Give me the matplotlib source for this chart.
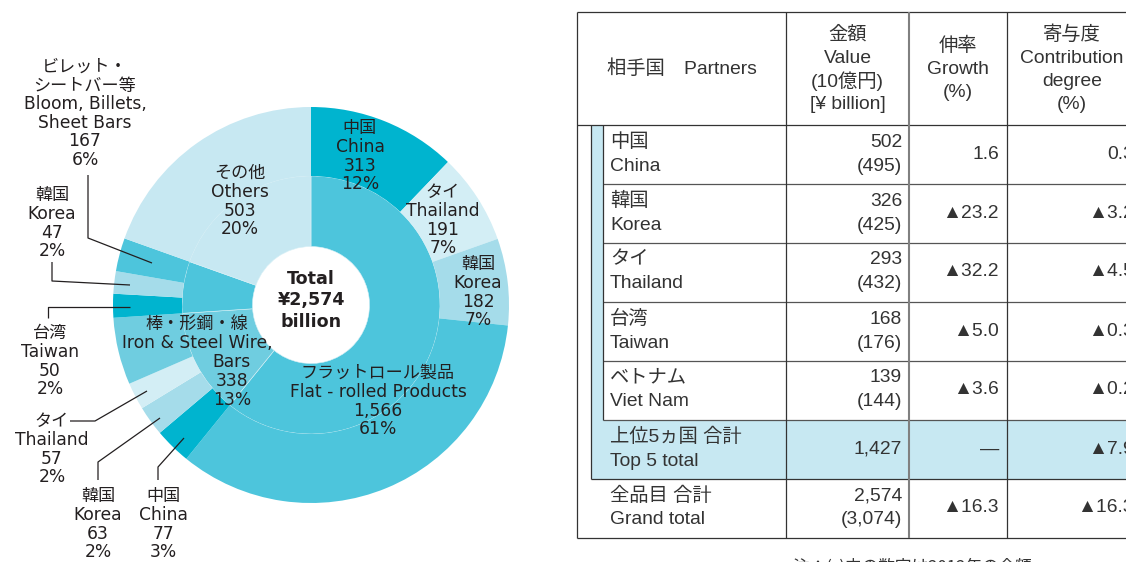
import matplotlib
matplotlib.use('Agg')
import matplotlib.pyplot as plt
from matplotlib.patches import Rectangle

W, H = 1126, 562

# ---------------- data ----------------
category_jp = ['フラットロール製品', '棒・形鋼・線', 'ビレット・\nシートバー等', 'その他']
category_en = ['Flat - rolled Products', 'Iron & Steel Wire,\nBars', 'Bloom, Billets,\nSheet Bars', 'Others']
category_values = [1566, 338, 167, 503]

flat_partners = ['China', 'Thailand', 'Korea']
flat_partner_values = [313, 191, 182]
wire_partners = ['China', 'Korea', 'Thailand']
wire_partner_values = [77, 63, 57]
bloom_partners = ['Taiwan', 'Korea']
bloom_partner_values = [50, 47]

table_jp = ['中国', '韓国', 'タイ', '台湾', 'ベトナム']
table_en = ['China', 'Korea', 'Thailand', 'Taiwan', 'Viet Nam']
value_2013 = ['502', '326', '293', '168', '139']
value_2012 = ['495', '425', '432', '176', '144']
growth = ['1.6', '▲23.2', '▲32.2', '▲5.0', '▲3.6']
contribution = ['0.3', '▲3.2', '▲4.5', '▲0.3', '▲0.2']
top5 = ('上位5ヵ国 合計', 'Top 5 total', '1,427', '—', '▲7.9')
grand = ('全品目 合計', 'Grand total', '2,574', '3,074', '▲16.3', '▲16.3')

total = sum(category_values)

# ---------------- colours ----------------
DARK = '#00B4CF'
FLAT = '#4DC5DC'
WIRE = '#6FCDE0'
BLOOM = '#4DC5DC'
OTHERS = '#C7E8F2'
KOREA = '#A5DCEA'
THAI = '#D3EEF5'
TXT = '#231F20'
partner_color = {'China': DARK, 'Taiwan': DARK, 'Korea': KOREA, 'Thailand': THAI}

fig = plt.figure(figsize=(W / 100, H / 100), dpi=100)
ax = fig.add_axes([0, 0, 1, 1])
ax.set_autoscale_on(False)
ax.set_xlim(0, W)
ax.set_ylim(0, H)

# ---------------- donut ----------------
cx, cy = 311, H - 305
R_OUT, R_MID, R_IN = 198, 129, 58.5

ax.pie(category_values, radius=R_MID, center=(cx, cy), startangle=90,
       counterclock=False, colors=[FLAT, WIRE, BLOOM, OTHERS],
       wedgeprops=dict(width=R_MID - R_IN, edgecolor='#D8F0F6', linewidth=0.4),
       frame=True)

outer_vals, outer_cols = [], []
for names, vals, cat_val, base in [
        (flat_partners, flat_partner_values, category_values[0], FLAT),
        (wire_partners, wire_partner_values, category_values[1], WIRE),
        (bloom_partners, bloom_partner_values, category_values[2], BLOOM)]:
    for n, v in zip(names, vals):
        outer_vals.append(v)
        outer_cols.append(partner_color[n])
    outer_vals.append(cat_val - sum(vals))
    outer_cols.append(base)
outer_vals.append(category_values[3])
outer_cols.append(OTHERS)

ax.pie(outer_vals, radius=R_OUT, center=(cx, cy), startangle=90,
       counterclock=False, colors=outer_cols,
       wedgeprops=dict(width=R_OUT - R_MID, linewidth=0), frame=True)

ax.set_xlim(0, W)
ax.set_ylim(0, H)
ax.set_aspect('auto')
ax.axis('off')

PIE_FONT = ['DejaVu Sans', 'Noto Sans CJK JP']


def pct(v):
    return f'{round(v / total * 100)}%'


def block(x, y0, lines, step=18.8, size=12.3, weight='normal'):
    for i, s in enumerate(lines):
        ax.text(x, H - (y0 + i * step), s, ha='center', va='center',
                family=PIE_FONT, fontsize=size, color=TXT, fontweight=weight)


def leader(pts):
    ax.plot([p[0] for p in pts], [H - p[1] for p in pts], color=TXT, lw=0.9,
            solid_capstyle='butt')


# inner labels
block(360, 128, ['中国', 'China', str(flat_partner_values[0]), pct(flat_partner_values[0])])
block(443, 192, ['タイ', 'Thailand', str(flat_partner_values[1]), pct(flat_partner_values[1])])
block(478, 264, ['韓国', 'Korea', str(flat_partner_values[2]), pct(flat_partner_values[2])])
block(240, 173, [category_jp[3], category_en[3], str(category_values[3]), pct(category_values[3])])
block(378, 373, [category_jp[0], category_en[0], f'{category_values[0]:,}', pct(category_values[0])])
wire_en = category_en[1].split('\n')
block(197, 324, [category_jp[1], wire_en[0]])
block(232, 362, [wire_en[1], str(category_values[1]), pct(category_values[1])])
block(311, 279, ['Total', f'¥{total:,}', 'billion'], step=21.5, size=12.6, weight='bold')

# outside labels
block(85, 67, category_jp[2].split('\n') + category_en[2].split('\n') +
      [str(category_values[2]), pct(category_values[2])], step=18.6)
leader([(88, 175), (88, 238), (152, 263)])

block(52, 195, ['韓国', 'Korea', str(bloom_partner_values[1]), pct(bloom_partner_values[1])])
leader([(52, 262), (52, 281), (130, 285)])

block(50, 333, ['台湾', 'Taiwan', str(bloom_partner_values[0]), pct(bloom_partner_values[0])])
leader([(48, 318), (48, 307), (130, 307)])

block(52, 421, ['タイ', 'Thailand', str(wire_partner_values[2]), pct(wire_partner_values[2])])
leader([(70, 421), (95, 421), (147, 391)])

block(98, 496, ['韓国', 'Korea', str(wire_partner_values[1]), pct(wire_partner_values[1])])
leader([(98, 480), (98, 462), (160, 418)])

block(163, 496, ['中国', 'China', str(wire_partner_values[0]), pct(wire_partner_values[0])])
leader([(158, 480), (158, 467), (184, 438)])

# ---------------- table ----------------
TF = ['Liberation Sans', 'Noto Sans CJK JP']
TS = 13.9
TC = '#333333'
XL, XB, XS = 577, 591, 603
C1, C2, C3, XR = 786, 909, 1007, 1140
YT, YH = 12, 125
row_edges = [125, 183.5, 242.5, 301.5, 360.5, 419.5, 478.5, 537.5]
LIGHT = '#C7E8F2'


def t(x, y, s, ha='left', size=TS, fam=TF):
    ax.text(x, H - y, s, ha=ha, va='center', family=fam, fontsize=size, color=TC)


def hl(x0, x1, y, color='#333333', lw=0.9):
    ax.plot([x0, x1], [H - y, H - y], color=color, lw=lw, solid_capstyle='butt')


def vl(x, y0, y1, color='#333333', lw=0.9):
    ax.plot([x, x], [H - y0, H - y1], color=color, lw=lw, solid_capstyle='butt')


# fills
ax.add_patch(Rectangle((XB, H - row_edges[5]), XS - XB, row_edges[5] - YH,
                       facecolor=LIGHT, edgecolor='none'))
ax.add_patch(Rectangle((XB, H - row_edges[6]), XR - XB, row_edges[6] - row_edges[5],
                       facecolor=LIGHT, edgecolor='none'))

# lines
hl(XL, XR, YT)
hl(XL, XR, YH)
for y in row_edges[1:6]:
    hl(XS, XR, y, color='#555555')
hl(XB, XR, row_edges[6])
hl(XL, XR, row_edges[7])
vl(XL, YT, row_edges[7])
vl(XB, YH, row_edges[6])
vl(XS, YH, row_edges[5])
vl(C1, YT, row_edges[7])
vl(C2, YT, row_edges[7], color='#808080', lw=1.5)
vl(C3, YT, row_edges[7])

# header
t((XL + C1) / 2, 69, '相手国　Partners', ha='center')
for i, s in enumerate(['金額', 'Value', '(10億円)', '[¥ billion]']):
    t((C1 + C2) / 2, 35 + i * 23.3, s, ha='center')
for i, s in enumerate(['伸率', 'Growth', '(%)']):
    t((C2 + C3) / 2, 46 + i * 23.3, s, ha='center')
for i, s in enumerate(['寄与度', 'Contribution', 'degree', '(%)']):
    t(1072, 35 + i * 23.3, s, ha='center')

# body rows
XV, XG, XC = 902, 999, 1134
for i in range(5):
    yc = (row_edges[i] + row_edges[i + 1]) / 2
    t(610, yc - 12, table_jp[i])
    t(610, yc + 12, table_en[i])
    t(XV, yc - 12, value_2013[i], ha='right')
    t(XV, yc + 12, f'({value_2012[i]})', ha='right')
    t(XG, yc, growth[i], ha='right')
    t(XC, yc, contribution[i], ha='right')

yc = (row_edges[5] + row_edges[6]) / 2
t(610, yc - 12, top5[0])
t(610, yc + 12, top5[1])
t(XV, yc, top5[2], ha='right')
t(XG, yc, top5[3], ha='right')
t(XC, yc, top5[4], ha='right')

yc = (row_edges[6] + row_edges[7]) / 2
t(610, yc - 12, grand[0])
t(610, yc + 12, grand[1])
t(XV, yc - 12, grand[2], ha='right')
t(XV, yc + 12, f'({grand[3]})', ha='right')
t(XG, yc, grand[4], ha='right')
t(XC, yc, grand[5], ha='right')

# note (cut off at bottom edge, as in the reference)
ax.text(793, H - 567, '注：(  )内の数字は2012年の金額', ha='left', va='center',
        family=['Noto Sans CJK JP', 'DejaVu Sans'], fontsize=12, color=TC)

fig.savefig('out.png', dpi=100)
